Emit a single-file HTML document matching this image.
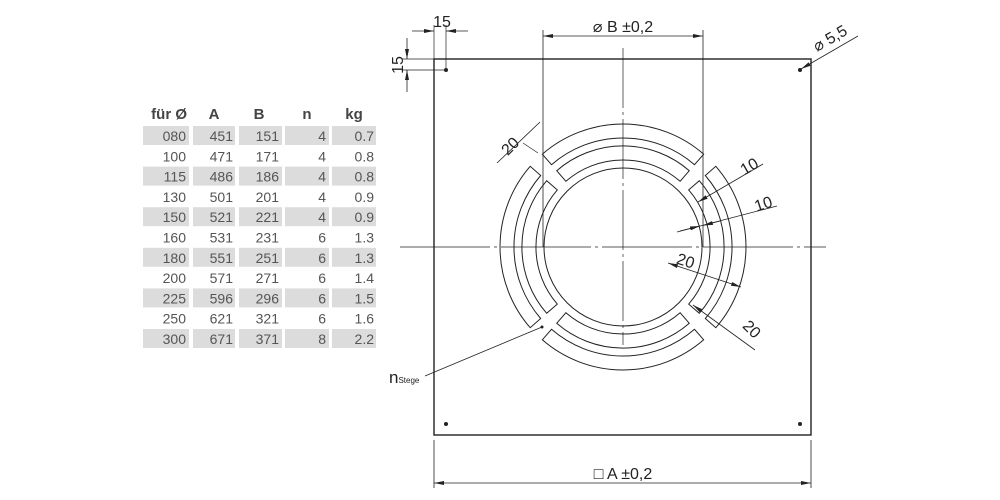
<!DOCTYPE html>
<html><head><meta charset="utf-8"><style>
body{margin:0;background:#fff;width:1000px;height:500px;overflow:hidden;font-family:"Liberation Sans","DejaVu Sans",sans-serif}
svg{position:absolute;left:0;top:0}
</style></head><body>
<svg width="1000" height="500" viewBox="0 0 1000 500">
<defs>
<marker id="ar" viewBox="0 0 10 4" refX="10" refY="2" markerWidth="10" markerHeight="4" orient="auto-start-reverse" markerUnits="userSpaceOnUse"><path d="M0,0 L10,2 L0,4 Z" fill="#222"/></marker>
</defs>
<!-- table -->
<g font-size="14" fill="#555" text-anchor="end">
<g font-weight="bold" fill="#444" font-size="15">
<text x="187" y="119" text-anchor="end">für Ø</text><text x="214" y="119" text-anchor="middle">A</text><text x="259" y="119" text-anchor="middle">B</text><text x="307" y="119" text-anchor="middle">n</text><text x="354" y="119" text-anchor="middle">kg</text></g>
<g fill="#dcdcdc">
<rect x="143" y="126" width="46" height="19"/><rect x="193" y="126" width="42" height="19"/><rect x="239" y="126" width="43" height="19"/><rect x="285" y="126" width="44" height="19"/><rect x="332" y="126" width="44" height="19"/>
<rect x="143" y="166.6" width="46" height="19"/><rect x="193" y="166.6" width="42" height="19"/><rect x="239" y="166.6" width="43" height="19"/><rect x="285" y="166.6" width="44" height="19"/><rect x="332" y="166.6" width="44" height="19"/>
<rect x="143" y="207.2" width="46" height="19"/><rect x="193" y="207.2" width="42" height="19"/><rect x="239" y="207.2" width="43" height="19"/><rect x="285" y="207.2" width="44" height="19"/><rect x="332" y="207.2" width="44" height="19"/>
<rect x="143" y="247.8" width="46" height="19"/><rect x="193" y="247.8" width="42" height="19"/><rect x="239" y="247.8" width="43" height="19"/><rect x="285" y="247.8" width="44" height="19"/><rect x="332" y="247.8" width="44" height="19"/>
<rect x="143" y="288.4" width="46" height="19"/><rect x="193" y="288.4" width="42" height="19"/><rect x="239" y="288.4" width="43" height="19"/><rect x="285" y="288.4" width="44" height="19"/><rect x="332" y="288.4" width="44" height="19"/>
<rect x="143" y="329" width="46" height="19"/><rect x="193" y="329" width="42" height="19"/><rect x="239" y="329" width="43" height="19"/><rect x="285" y="329" width="44" height="19"/><rect x="332" y="329" width="44" height="19"/>
</g>
<g>
<text x="186" y="141">080</text><text x="233" y="141">451</text><text x="279" y="141">151</text><text x="326" y="141">4</text><text x="374" y="141">0.7</text>
<text x="186" y="161.3">100</text><text x="233" y="161.3">471</text><text x="279" y="161.3">171</text><text x="326" y="161.3">4</text><text x="374" y="161.3">0.8</text>
<text x="186" y="181.6">115</text><text x="233" y="181.6">486</text><text x="279" y="181.6">186</text><text x="326" y="181.6">4</text><text x="374" y="181.6">0.8</text>
<text x="186" y="201.9">130</text><text x="233" y="201.9">501</text><text x="279" y="201.9">201</text><text x="326" y="201.9">4</text><text x="374" y="201.9">0.9</text>
<text x="186" y="222.2">150</text><text x="233" y="222.2">521</text><text x="279" y="222.2">221</text><text x="326" y="222.2">4</text><text x="374" y="222.2">0.9</text>
<text x="186" y="242.5">160</text><text x="233" y="242.5">531</text><text x="279" y="242.5">231</text><text x="326" y="242.5">6</text><text x="374" y="242.5">1.3</text>
<text x="186" y="262.8">180</text><text x="233" y="262.8">551</text><text x="279" y="262.8">251</text><text x="326" y="262.8">6</text><text x="374" y="262.8">1.3</text>
<text x="186" y="283.1">200</text><text x="233" y="283.1">571</text><text x="279" y="283.1">271</text><text x="326" y="283.1">6</text><text x="374" y="283.1">1.4</text>
<text x="186" y="303.4">225</text><text x="233" y="303.4">596</text><text x="279" y="303.4">296</text><text x="326" y="303.4">6</text><text x="374" y="303.4">1.5</text>
<text x="186" y="323.7">250</text><text x="233" y="323.7">621</text><text x="279" y="323.7">321</text><text x="326" y="323.7">6</text><text x="374" y="323.7">1.6</text>
<text x="186" y="344">300</text><text x="233" y="344">671</text><text x="279" y="344">371</text><text x="326" y="344">8</text><text x="374" y="344">2.2</text>
</g></g>

<!-- drawing -->
<g stroke="#222" fill="none" stroke-width="1">
<rect x="434" y="59" width="377" height="376" stroke-width="1.4"/>
<circle cx="623" cy="247" r="79"/>
<g id="s">
<path d="M542.3,154.2 A123,123 0 0 1 703.7,154.2 L694.5,164.7 A109,109 0 0 0 551.5,164.7 Z"/>
<path d="M556.7,170.7 A101,101 0 0 1 689.3,170.7 L680.1,181.3 A87,87 0 0 0 565.9,181.3 Z"/>
</g>
<use href="#s" transform="rotate(90 623 247)"/>
<use href="#s" transform="rotate(180 623 247)"/>
<use href="#s" transform="rotate(270 623 247)"/>
<!-- center lines -->
<line x1="623" y1="48" x2="623" y2="345" stroke-width="0.7" stroke-dasharray="60,4,3,4"/>
<line x1="400" y1="247" x2="826" y2="247" stroke-width="0.7" stroke-dasharray="90,4,3,4"/>
<!-- B dim -->
<line x1="543" y1="30" x2="543" y2="247" stroke-width="0.8"/>
<line x1="703" y1="30" x2="703" y2="247" stroke-width="0.8"/>
<line x1="543" y1="36" x2="703" y2="36" stroke-width="0.8" marker-start="url(#ar)" marker-end="url(#ar)"/>
<!-- A dim -->
<line x1="434" y1="440" x2="434" y2="488" stroke-width="0.8"/>
<line x1="811" y1="440" x2="811" y2="488" stroke-width="0.8"/>
<line x1="434" y1="483" x2="811" y2="483" stroke-width="0.8" marker-start="url(#ar)" marker-end="url(#ar)"/>
<!-- 15 dims -->
<line x1="434" y1="25" x2="434" y2="59" stroke-width="0.7"/>
<line x1="446" y1="25" x2="446" y2="70" stroke-width="0.7"/>
<line x1="412" y1="31" x2="434" y2="31" stroke-width="0.8" marker-end="url(#ar)"/>
<line x1="468" y1="31" x2="446" y2="31" stroke-width="0.8" marker-end="url(#ar)"/>
<line x1="402" y1="59" x2="434" y2="59" stroke-width="0.7"/>
<line x1="402" y1="70" x2="446" y2="70" stroke-width="0.7"/>
<line x1="407" y1="38" x2="407" y2="59" stroke-width="0.8" marker-end="url(#ar)"/>
<line x1="407" y1="92" x2="407" y2="70" stroke-width="0.8" marker-end="url(#ar)"/>
<!-- Ø5,5 leader -->
<line x1="858" y1="36" x2="801" y2="69" stroke-width="0.8" marker-end="url(#ar)"/>
<!-- 20 top-left -->
<line x1="497" y1="163" x2="540" y2="122" stroke-width="0.8"/>
<line x1="523" y1="143" x2="538" y2="153" stroke-width="0.7"/>
<!-- 10 dims -->
<line x1="763" y1="164" x2="698" y2="202" stroke-width="0.8" marker-end="url(#ar)"/>
<line x1="777" y1="206" x2="677" y2="232" stroke-width="0.8"/>
<line x1="720" y1="221" x2="703" y2="225.5" stroke-width="0.8" marker-end="url(#ar)"/>
<line x1="680" y1="231" x2="700" y2="226" stroke-width="0.8" marker-end="url(#ar)"/>
<!-- 20 right -->
<line x1="668" y1="263" x2="741" y2="287" stroke-width="0.8" marker-start="url(#ar)" marker-end="url(#ar)"/>
<line x1="755" y1="350" x2="693" y2="305" stroke-width="0.8" marker-end="url(#ar)"/>
<!-- nStege leader -->
<line x1="425" y1="376" x2="542" y2="327" stroke-width="0.8"/>
</g>
<g fill="#222">
<circle cx="446" cy="70" r="2"/><circle cx="800" cy="70" r="2"/><circle cx="446" cy="424" r="2"/><circle cx="800" cy="424" r="2"/><circle cx="542" cy="327" r="1.5"/>
</g>
<g font-size="16" fill="#222">
<text x="623" y="32" text-anchor="middle">⌀ B ±0,2</text>
<text x="623" y="479" text-anchor="middle">□ A ±0,2</text>
<text x="442" y="27" text-anchor="middle">15</text>
<text transform="translate(403,65) rotate(-90)" text-anchor="middle">15</text>
<text transform="translate(817,52) rotate(-30)">⌀ 5,5</text>
<text transform="translate(514,150) rotate(-45)" text-anchor="middle">20</text>
<text transform="translate(752,171) rotate(-30)" text-anchor="middle">10</text>
<text transform="translate(765,209) rotate(-18)" text-anchor="middle">10</text>
<text transform="translate(684,266) rotate(18)" text-anchor="middle">20</text>
<text transform="translate(748,333) rotate(45)" text-anchor="middle">20</text>
<text x="389" y="383" font-size="17">n<tspan font-size="8">Stege</tspan></text>
</g>
</svg>
</body></html>
